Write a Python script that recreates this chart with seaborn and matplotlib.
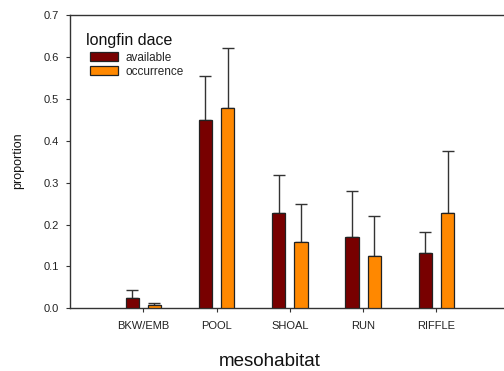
import matplotlib
matplotlib.use("Agg")
import matplotlib.pyplot as plt
import seaborn as sns
import pandas as pd
import numpy as np

# Mesohabitat use by longfin dace: proportion available vs. proportion of occurrences
habitats = ["BKW/EMB", "POOL", "SHOAL", "RUN", "RIFFLE"]
available = [0.024, 0.449, 0.228, 0.170, 0.133]
available_err = [0.020, 0.106, 0.089, 0.110, 0.049]
occurrence = [0.007, 0.479, 0.159, 0.125, 0.227]
occurrence_err = [0.006, 0.142, 0.089, 0.095, 0.148]
series = ["available", "occurrence"]
colors = ["#780000", "#FF8800"]

df = pd.DataFrame({
    "mesohabitat": habitats * 2,
    "series": [series[0]] * len(habitats) + [series[1]] * len(habitats),
    "proportion": available + occurrence,
    "err": available_err + occurrence_err,
})

sns.set_style("ticks")
plt.rcParams["font.family"] = ["Liberation Sans", "DejaVu Sans"]

W, H = 504, 371
fig = plt.figure(figsize=(W / 100, H / 100), dpi=100)
x0, x1, y0, y1 = 70, 509.7, 308.3, 15
ax = fig.add_axes([x0 / W, 1 - y0 / H, (x1 - x0) / W, (y0 - y1) / H])

sns.barplot(data=df, x="mesohabitat", y="proportion", hue="series",
            order=habitats, hue_order=series, palette=colors,
            width=0.61, gap=0.41, errorbar=None, edgecolor="#222222",
            linewidth=0.9, saturation=1, ax=ax, zorder=3)

# upward-only error bars drawn from the bar tops
for patch in ax.patches:
    h = patch.get_height()
    if h <= 0 or patch.get_width() <= 0:
        continue
    xc = patch.get_x() + patch.get_width() / 2
    row = df[np.isclose(df["proportion"], h)].iloc[0]
    ax.errorbar(xc, h, yerr=[[0], [row["err"]]], fmt="none",
                ecolor="#333333", elinewidth=1.0, capsize=4.5, capthick=1.0,
                zorder=2)

ax.set_xlim(-1, 5)
ax.set_ylim(0, 0.7)
yt = np.arange(0, 0.71, 0.1)
ax.set_yticks(yt)
ax.set_yticklabels([f"{v:.1f}" for v in yt])
ax.tick_params(axis="both", labelsize=8, length=3, width=0.8, color="#333333",
               labelcolor="#222222", pad=5)
ax.tick_params(axis="x", pad=6)

for side in ["left", "bottom", "top", "right"]:
    ax.spines[side].set_visible(True)
    ax.spines[side].set_linewidth(1.0)
    ax.spines[side].set_color("#333333")

ax.set_xlabel("mesohabitat", fontsize=13.5, color="#111111")
ax.xaxis.set_label_coords((270 - x0) / (x1 - x0), -(353 - y0) / (y0 - y1))
ax.set_ylabel("proportion", fontsize=9, color="#111111")
ax.yaxis.set_label_coords(-(x0 - 24) / (x1 - x0), 0.5 + (161 - (y0 + y1) / 2) / -(y0 - y1))

# legend: title as its own text, entries indented below it
handles, labels = ax.get_legend_handles_labels()
ax.get_legend().remove()
fig.text(86 / W, 1 - 41 / H, "longfin dace", fontsize=11.5, color="#111111",
         ha="left", va="center")
leg = fig.legend(handles, labels, loc="upper left",
                 bbox_to_anchor=(90 / W, 1 - 52 / H), frameon=False,
                 fontsize=8.5, handlelength=2.4, handleheight=0.8,
                 handletextpad=0.6, labelspacing=0.15, borderpad=0,
                 borderaxespad=0)

fig.savefig("out.png", dpi=100)
